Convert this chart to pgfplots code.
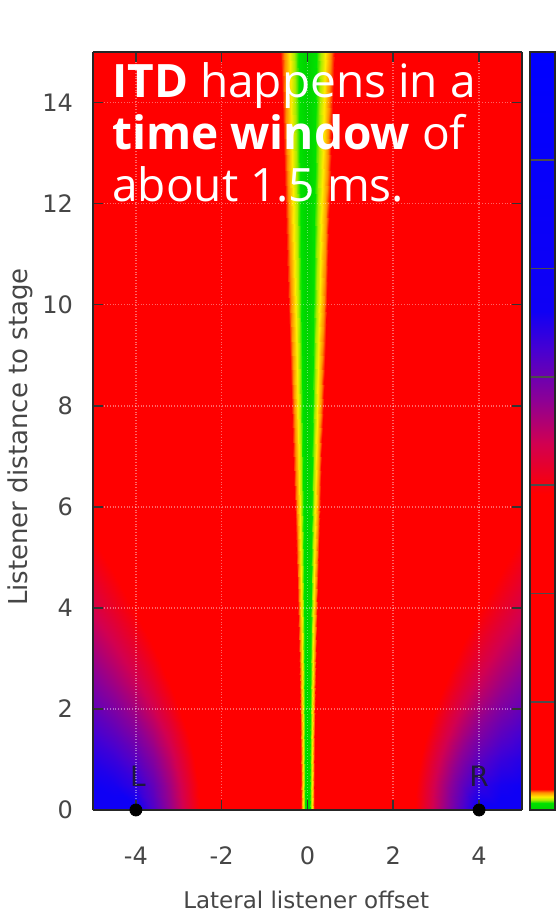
\documentclass[border=0pt]{standalone}
\usepackage{pgfplots}
\pgfplotsset{compat=1.18}
\usepackage{fontspec}
\setmainfont{DejaVu Sans}
\newfontfamily\osans{Open Sans}
\usetikzlibrary{calc}
\definecolor{labgray}{RGB}{70,70,70}
\definecolor{navyL}{RGB}{30,25,60}

\begin{document}
\begin{tikzpicture}
\begin{axis}[
  name=ax,
  view={0}{90},
  scale only axis,
  width=214.5pt, height=379pt,
  xmin=-5, xmax=5, ymin=0, ymax=15,
  xtick={-4,-2,0,2,4}, ytick={0,2,...,14}, ztick=\empty,
  clip=false,
  axis on top,
  grid=major, zmajorgrids=false,
  grid style={densely dotted, white, opacity=0.4, line width=0.8pt},
  axis line style={line width=1pt, draw=black!85},
  every tick/.style={black!80, line width=0.8pt},
  major tick length=5pt,
  tick align=inside,
  /pgf/number format/assume math mode=true,
  ticklabel style={font=\fontsize{12}{14}\selectfont, text=labgray},
  xticklabel style={anchor=center, yshift=-23pt},
  yticklabel style={xshift=-6.5pt},
  xlabel={Lateral listener offset},
  ylabel={Listener distance to stage},
  xlabel style={font=\fontsize{11.5}{13}\selectfont, text=labgray, at={(axis description cs:0.497,-0.119)}, anchor=center},
  ylabel style={font=\fontsize{13}{15}\selectfont, text=labgray, at={(axis description cs:-0.17,0.492)}, anchor=center},
  colormap={itd}{rgb255(0pt)=(0,210,0) rgb255(1.1pt)=(0,225,0) rgb255(1.6pt)=(170,235,0) rgb255(2.1pt)=(255,235,0) rgb255(2.8pt)=(255,140,0) rgb255(3.3pt)=(255,0,0) rgb255(50pt)=(255,0,0) rgb255(58pt)=(210,0,80) rgb255(65pt)=(140,0,150) rgb255(73pt)=(70,0,210) rgb255(79pt)=(15,0,245) rgb255(120pt)=(0,0,255)},
  point meta min=0, point meta max=12,
  colorbar,
  colorbar shift/.style={xshift=4pt},
  colorbar style={
    at={(parent axis.north east)}, anchor=north west,
    width=12.5pt,
    ytick={1.714,3.429,5.143,6.857,8.571,10.286},
    yticklabels={},
    major tick length=12.5pt,
    tick align=inside,
    ytick pos=left,
    axis line style={draw=black!85, line width=1pt},
    every tick/.style={black!70, line width=0.8pt},
  },
]
% ITD level over the listening area
\addplot3[surf, shader=interp, mesh/cols=29] coordinates {
(-5,0,8.00) (-4.5,0,8.00) (-4,0,8.00) (-3.6,0,7.20) (-3.2,0,6.40) (-2.8,0,5.60) (-2.2,0,4.40) (-1.5,0,3.00) (-0.9,0,1.80) (-0.6,0,1.20) (-0.4,0,0.80) (-0.25,0,0.50) (-0.16,0,0.32) (-0.08,0,0.16) (0,0,0)
(0.08,0,0.16) (0.16,0,0.32) (0.25,0,0.50) (0.4,0,0.80) (0.6,0,1.20) (0.9,0,1.80) (1.5,0,3.00) (2.2,0,4.40) (2.8,0,5.60) (3.2,0,6.40) (3.6,0,7.20) (4,0,8.00) (4.5,0,8.00) (5,0,8.00)

(-5,0.5,7.896) (-4.5,0.5,7.808) (-4,0.5,7.516) (-3.6,0.5,6.976) (-3.2,0.5,6.274) (-2.8,0.5,5.518) (-2.2,0.5,4.352) (-1.5,0.5,2.973) (-0.9,0.5,1.785) (-0.6,0.5,1.19) (-0.4,0.5,0.794) (-0.25,0.5,0.496) (-0.16,0.5,0.318) (-0.08,0.5,0.159) (0,0.5,0)
(0.08,0.5,0.159) (0.16,0.5,0.318) (0.25,0.5,0.496) (0.4,0.5,0.794) (0.6,0.5,1.19) (0.9,0.5,1.785) (1.5,0.5,2.973) (2.2,0.5,4.352) (2.8,0.5,5.518) (3.2,0.5,6.274) (3.6,0.5,6.976) (4,0.5,7.516) (4.5,0.5,7.808) (5,0.5,7.896)

(-5,1,7.641) (-4.5,1,7.441) (-4,1,7.062) (-3.6,1,6.589) (-3.2,1,5.988) (-2.8,1,5.311) (-2.2,1,4.221) (-1.5,1,2.897) (-0.9,1,1.744) (-0.6,1,1.16) (-0.4,1,0.776) (-0.25,1,0.485) (-0.16,1,0.310) (-0.08,1,0.155) (0,1,0)
(0.08,1,0.155) (0.16,1,0.310) (0.25,1,0.485) (0.4,1,0.776) (0.6,1,1.16) (0.9,1,1.744) (1.5,1,2.897) (2.2,1,4.221) (2.8,1,5.311) (3.2,1,5.988) (3.6,1,6.589) (4,1,7.062) (4.5,1,7.441) (5,1,7.641)

(-5,1.5,7.321) (-4.5,1.5,7.050) (-4,1.5,6.639) (-3.6,1.5,6.195) (-3.2,1.5,5.655) (-2.8,1.5,5.043) (-2.2,1.5,4.036) (-1.5,1.5,2.786) (-0.9,1.5,1.680) (-0.6,1.5,1.12) (-0.4,1.5,0.749) (-0.25,1.5,0.468) (-0.16,1.5,0.300) (-0.08,1.5,0.150) (0,1.5,0)
(0.08,1.5,0.150) (0.16,1.5,0.300) (0.25,1.5,0.468) (0.4,1.5,0.749) (0.6,1.5,1.12) (0.9,1.5,1.680) (1.5,1.5,2.786) (2.2,1.5,4.036) (2.8,1.5,5.043) (3.2,1.5,5.655) (3.6,1.5,6.195) (4,1.5,6.639) (4.5,1.5,7.050) (5,1.5,7.321)

(-5,2,6.984) (-4.5,2,6.670) (-4,2,6.246) (-3.6,2,5.819) (-3.2,2,5.319) (-2.8,2,4.756) (-2.2,2,3.824) (-1.5,2,2.650) (-0.9,2,1.603) (-0.6,2,1.07) (-0.4,2,0.716) (-0.25,2,0.447) (-0.16,2,0.286) (-0.08,2,0.143) (0,2,0)
(0.08,2,0.143) (0.16,2,0.286) (0.25,2,0.447) (0.4,2,0.716) (0.6,2,1.07) (0.9,2,1.603) (1.5,2,2.650) (2.2,2,3.824) (2.8,2,4.756) (3.2,2,5.319) (3.6,2,5.819) (4,2,6.246) (4.5,2,6.670) (5,2,6.984)

(-5,2.5,6.648) (-4.5,2.5,6.310) (-4,2.5,5.882) (-3.6,2.5,5.469) (-3.2,2.5,4.997) (-2.8,2.5,4.472) (-2.2,2.5,3.604) (-1.5,2.5,2.506) (-0.9,2.5,1.519) (-0.6,2.5,1.02) (-0.4,2.5,0.678) (-0.25,2.5,0.424) (-0.16,2.5,0.271) (-0.08,2.5,0.136) (0,2.5,0)
(0.08,2.5,0.136) (0.16,2.5,0.271) (0.25,2.5,0.424) (0.4,2.5,0.678) (0.6,2.5,1.02) (0.9,2.5,1.519) (1.5,2.5,2.506) (2.2,2.5,3.604) (2.8,2.5,4.472) (3.2,2.5,4.997) (3.6,2.5,5.469) (4,2.5,5.882) (4.5,2.5,6.310) (5,2.5,6.648)

(-5,3,6.325) (-4.5,3,5.973) (-4,3,5.544) (-3.6,3,5.144) (-3.2,3,4.695) (-2.8,3,4.201) (-2.2,3,3.389) (-1.5,3,2.360) (-0.9,3,1.431) (-0.6,3,0.96) (-0.4,3,0.640) (-0.25,3,0.400) (-0.16,3,0.256) (-0.08,3,0.128) (0,3,0)
(0.08,3,0.128) (0.16,3,0.256) (0.25,3,0.400) (0.4,3,0.640) (0.6,3,0.96) (0.9,3,1.431) (1.5,3,2.360) (2.2,3,3.389) (2.8,3,4.201) (3.2,3,4.695) (3.6,3,5.144) (4,3,5.544) (4.5,3,5.973) (5,3,6.325)

(-5,4,5.726) (-4.5,4,5.363) (-4,4,4.944) (-3.6,4,4.568) (-3.2,4,4.158) (-2.8,4,3.713) (-2.2,4,2.992) (-1.5,4,2.084) (-0.9,4,1.264) (-0.6,4,0.85) (-0.4,4,0.566) (-0.25,4,0.354) (-0.16,4,0.226) (-0.08,4,0.113) (0,4,0)
(0.08,4,0.113) (0.16,4,0.226) (0.25,4,0.354) (0.4,4,0.566) (0.6,4,0.85) (0.9,4,1.264) (1.5,4,2.084) (2.2,4,2.992) (2.8,4,3.713) (3.2,4,4.158) (3.6,4,4.568) (4,4,4.944) (4.5,4,5.363) (5,4,5.726)

(-5,5,5.197) (-4.5,5,4.837) (-4,5,4.434) (-3.6,5,4.081) (-3.2,5,3.702) (-2.8,5,3.298) (-2.2,5,2.651) (-1.5,5,1.843) (-0.9,5,1.118) (-0.6,5,0.75) (-0.4,5,0.500) (-0.25,5,0.312) (-0.16,5,0.200) (-0.08,5,0.100) (0,5,0)
(0.08,5,0.100) (0.16,5,0.200) (0.25,5,0.312) (0.4,5,0.500) (0.6,5,0.75) (0.9,5,1.118) (1.5,5,1.843) (2.2,5,2.651) (2.8,5,3.298) (3.2,5,3.702) (3.6,5,4.081) (4,5,4.434) (4.5,5,4.837) (5,5,5.197)

(-5,6,4.734) (-4.5,6,4.383) (-4,6,4.000) (-3.6,6,3.670) (-3.2,6,3.319) (-2.8,6,2.950) (-2.2,6,2.364) (-1.5,6,1.639) (-0.9,6,0.994) (-0.6,6,0.665) (-0.4,6,0.444) (-0.25,6,0.277) (-0.16,6,0.177) (-0.08,6,0.089) (0,6,0)
(0.08,6,0.089) (0.16,6,0.177) (0.25,6,0.277) (0.4,6,0.444) (0.6,6,0.665) (0.9,6,0.994) (1.5,6,1.639) (2.2,6,2.364) (2.8,6,2.950) (3.2,6,3.319) (3.6,6,3.670) (4,6,4.000) (4.5,6,4.383) (5,6,4.734)

(-5,8,3.980) (-4.5,8,3.657) (-4,8,3.314) (-3.6,8,3.025) (-3.2,8,2.723) (-2.8,8,2.411) (-2.2,8,1.921) (-1.5,8,1.326) (-0.9,8,0.801) (-0.6,8,0.536) (-0.4,8,0.358) (-0.25,8,0.224) (-0.16,8,0.143) (-0.08,8,0.072) (0,8,0)
(0.08,8,0.072) (0.16,8,0.143) (0.25,8,0.224) (0.4,8,0.358) (0.6,8,0.536) (0.9,8,0.801) (1.5,8,1.326) (2.2,8,1.921) (2.8,8,2.411) (3.2,8,2.723) (3.6,8,3.025) (4,8,3.314) (4.5,8,3.657) (5,8,3.980)

(-5,10,3.404) (-4.5,10,3.112) (-4,10,2.806) (-3.6,10,2.552) (-3.2,10,2.290) (-2.8,10,2.021) (-2.2,10,1.605) (-1.5,10,1.105) (-0.9,10,0.666) (-0.6,10,0.446) (-0.4,10,0.297) (-0.25,10,0.186) (-0.16,10,0.119) (-0.08,10,0.059) (0,10,0)
(0.08,10,0.059) (0.16,10,0.119) (0.25,10,0.186) (0.4,10,0.297) (0.6,10,0.446) (0.9,10,0.666) (1.5,10,1.105) (2.2,10,1.605) (2.8,10,2.021) (3.2,10,2.290) (3.6,10,2.552) (4,10,2.806) (4.5,10,3.112) (5,10,3.404)

(-5,12.5,2.863) (-4.5,12.5,2.606) (-4,12.5,2.341) (-3.6,12.5,2.123) (-3.2,12.5,1.899) (-2.8,12.5,1.673) (-2.2,12.5,1.324) (-1.5,12.5,0.909) (-0.9,12.5,0.547) (-0.6,12.5,0.366) (-0.4,12.5,0.244) (-0.25,12.5,0.153) (-0.16,12.5,0.098) (-0.08,12.5,0.049) (0,12.5,0)
(0.08,12.5,0.049) (0.16,12.5,0.098) (0.25,12.5,0.153) (0.4,12.5,0.244) (0.6,12.5,0.366) (0.9,12.5,0.547) (1.5,12.5,0.909) (2.2,12.5,1.324) (2.8,12.5,1.673) (3.2,12.5,1.899) (3.6,12.5,2.123) (4,12.5,2.341) (4.5,12.5,2.606) (5,12.5,2.863)

(-5,15,2.460) (-4.5,15,2.233) (-4,15,2.000) (-3.6,15,1.811) (-3.2,15,1.618) (-2.8,15,1.421) (-2.2,15,1.123) (-1.5,15,0.770) (-0.9,15,0.463) (-0.6,15,0.309) (-0.4,15,0.206) (-0.25,15,0.129) (-0.16,15,0.082) (-0.08,15,0.041) (0,15,0)
(0.08,15,0.041) (0.16,15,0.082) (0.25,15,0.129) (0.4,15,0.206) (0.6,15,0.309) (0.9,15,0.463) (1.5,15,0.770) (2.2,15,1.123) (2.8,15,1.421) (3.2,15,1.618) (3.6,15,1.811) (4,15,2.000) (4.5,15,2.233) (5,15,2.460)
};
% speakers
\addplot3[only marks, mark=*, mark size=3pt, black] coordinates {(-4,0,0) (4,0,0)};
\node[text=navyL, font=\fontsize{14}{16}\selectfont] at (axis cs:-3.95,0.66,0) {L};
\node[text=navyL, font=\fontsize{14}{16}\selectfont] at (axis cs:4.0,0.66,0) {R};
\node[anchor=north west, inner sep=0pt, align=left, text=white,
      font=\osans\fontsize{23}{26}\selectfont] at (axis cs:-4.56,14.8,0)
  {\textbf{ITD} happens in a\\ \textbf{time window} of\\ about 1.5 ms.};
\end{axis}
\pgfresetboundingbox
\path[use as bounding box] ($(ax.south west)+(-46.5pt,-53.5pt)$) rectangle ($(ax.south west)+(233.5pt,405pt)$);
\end{tikzpicture}
\end{document}
